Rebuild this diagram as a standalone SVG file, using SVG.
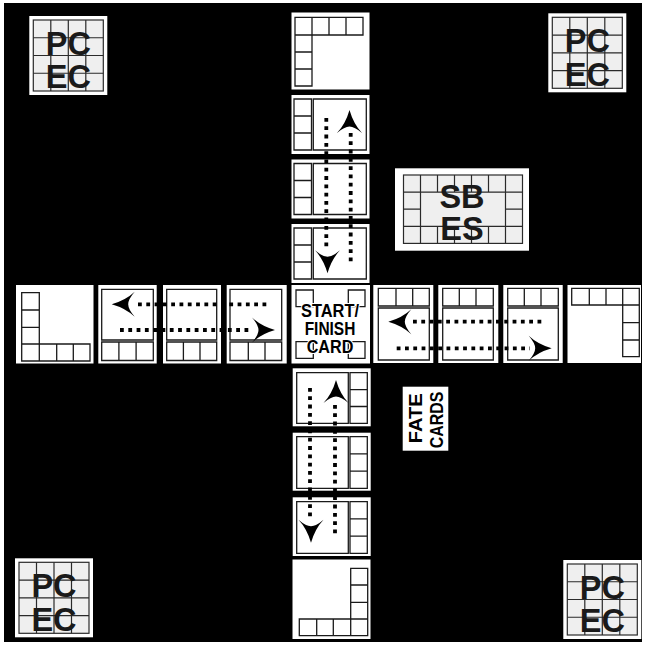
<svg xmlns="http://www.w3.org/2000/svg" width="645" height="645" viewBox="0 0 645 645">
<style>
.w{fill:#fff}
.ln{fill:none;stroke:#1a1a1a;stroke-width:1.3}
.gl{fill:none;stroke:#2a2a2a;stroke-width:1.2}
.grid{fill:#efefef;stroke:#2a2a2a;stroke-width:1.2}
.big{font-family:"Liberation Sans",Arial,sans-serif;font-weight:bold;font-size:32.5px;fill:#1a1a1a;text-anchor:middle}
.lbl{font-family:"Liberation Sans",Arial,sans-serif;font-weight:bold;font-size:18px;fill:#000;text-anchor:middle}
.halo{paint-order:stroke;stroke:#fff;stroke-width:2;stroke-linejoin:round}
.dot{fill:none;stroke:#000;stroke-width:3.8;stroke-dasharray:3.8 4.5}
</style>
<defs>
<path id="ah" d="M0,0 Q4,14 12.5,23 Q5,16.5 0,16.5 Q-5,16.5 -12.5,23 Q-4,14 0,0Z" fill="#000"/>
</defs>
<rect width="645" height="645" fill="#fff"/>
<rect x="4" y="3" width="638" height="639" fill="#000"/>

<g id="pcec-tl" transform="translate(29.3,16)">
<rect class="w" width="78" height="79"/>
<rect class="grid" x="4" y="4" width="70" height="71"/>
<path class="gl" d="M21.5 4V75M39 4V75M56.5 4V75M4 21.75H74M4 39.5H74M4 57.25H74"/>
<text class="big" x="39" y="39">PC</text>
<text class="big" x="39" y="72.3">EC</text>
</g>
<g id="pcec-tr" transform="translate(548.3,13.3)">
<rect class="w" width="78" height="79"/>
<rect class="grid" x="4" y="4" width="70" height="71"/>
<path class="gl" d="M21.5 4V75M39 4V75M56.5 4V75M4 21.75H74M4 39.5H74M4 57.25H74"/>
<text class="big" x="39" y="39">PC</text>
<text class="big" x="39" y="72.3">EC</text>
</g>
<g id="pcec-bl" transform="translate(15,558.3)">
<rect class="w" width="78" height="79"/>
<rect class="grid" x="4" y="4" width="70" height="71"/>
<path class="gl" d="M21.5 4V75M39 4V75M56.5 4V75M4 21.75H74M4 39.5H74M4 57.25H74"/>
<text class="big" x="39" y="39">PC</text>
<text class="big" x="39" y="72.3">EC</text>
</g>
<g id="pcec-br" transform="translate(563.3,560)">
<rect class="w" width="78" height="79"/>
<rect class="grid" x="4" y="4" width="70" height="71"/>
<path class="gl" d="M21.5 4V75M39 4V75M56.5 4V75M4 21.75H74M4 39.5H74M4 57.25H74"/>
<text class="big" x="39" y="39">PC</text>
<text class="big" x="39" y="72.3">EC</text>
</g>

<g id="sbes">
<rect class="w" x="395" y="168.3" width="134" height="82.4"/>
<rect class="grid" x="403.5" y="175" width="119" height="68.4"/>
<path class="gl" d="M403.5 192.1H522.5M403.5 226.3H522.5M403.5 209.2H420.5M505.5 209.2H522.5M420.5 175V243.4M505.5 175V243.4M437.5 175V192.1M454.5 175V192.1M471.5 175V192.1M488.5 175V192.1M437.5 226.3V243.4M454.5 226.3V243.4M471.5 226.3V243.4M488.5 226.3V243.4"/>
<text class="big" x="462" y="208.3">SB</text>
<text class="big" x="462" y="240">ES</text>
</g>

<g id="top-end">
<rect class="w" x="291.5" y="12.5" width="78" height="77"/>
<path class="ln" d="M295 17.3H363V35H295Z M312 17.3V35 M329 17.3V35 M346 17.3V35 M295 35V86H312V35 M295 52H312 M295 69H312"/>
</g>
<g id="top-1">
<rect class="w" x="291.5" y="95" width="78" height="59"/>
<path class="ln" d="M294 99H311.5V150H294Z M294 116H311.5 M294 133H311.5 M313.3 99H366.3V150H313.3Z"/>
</g>
<g id="top-2">
<rect class="w" x="291.5" y="159.5" width="78" height="59"/>
<path class="ln" d="M294 163.5H311.5V214.5H294Z M294 180.5H311.5 M294 197.5H311.5 M313.3 163.5H366.3V214.5H313.3Z"/>
</g>
<g id="top-3">
<rect class="w" x="291.5" y="224" width="78" height="59"/>
<path class="ln" d="M294 228H311.5V279H294Z M294 245H311.5 M294 262H311.5 M313.3 228H366.3V279H313.3Z"/>
</g>

<g id="left-end">
<rect class="w" x="16" y="285" width="77.5" height="78.5"/>
<path class="ln" d="M21.7 292.7H39.3V361H21.7Z M21.7 310H39.3 M21.7 327.3H39.3 M21.7 344H90V361H39.3 M56.7 344V361 M73.3 344V361"/>
</g>
<g id="left-1">
<rect class="w" x="98.3" y="285" width="58.4" height="78.5"/>
<path class="ln" d="M101.7 289.3H153.3V340H101.7Z M101.7 342H153.3V360.5H101.7Z M118.9 342V360.5 M136.1 342V360.5"/>
</g>
<g id="left-2">
<rect class="w" x="163" y="285" width="58" height="78.5"/>
<path class="ln" d="M166.7 289.3H216.7V340H166.7Z M166.7 342H216.7V360.5H166.7Z M183.4 342V360.5 M200 342V360.5"/>
</g>
<g id="left-3">
<rect class="w" x="226.7" y="285" width="60" height="78.5"/>
<path class="ln" d="M230 289.3H281.7V340H230Z M230 342H281.7V360.5H230Z M248.3 342V360.5 M265 342V360.5"/>
</g>

<g id="start">
<rect class="w" x="291.5" y="285" width="78.5" height="78.5"/>
<path class="ln" d="M296 290h17.3v16.7h-17.3Z M348.3 290h16.7v16.7h-16.7Z M296 341.7h17.3v16.7h-17.3Z M348.3 341.7h16.7v16.7h-16.7Z"/>
<text class="lbl halo" x="330" y="317.3" textLength="58" lengthAdjust="spacingAndGlyphs">START/</text>
<text class="lbl halo" x="330" y="335" textLength="50.7" lengthAdjust="spacingAndGlyphs">FINISH</text>
<text class="lbl halo" x="330" y="352.7" textLength="46.7" lengthAdjust="spacingAndGlyphs">CARD</text>
</g>

<g id="right-1">
<rect class="w" x="373.3" y="285" width="60" height="78"/>
<path class="ln" d="M378.3 288.3H429.3V306H378.3Z M396 288.3V306 M412.7 288.3V306 M378.3 308H429.3V360H378.3Z"/>
</g>
<g id="right-2">
<rect class="w" x="438.3" y="285" width="60" height="78"/>
<path class="ln" d="M442.7 288.3H493.3V306H442.7Z M459.3 288.3V306 M476 288.3V306 M442.7 308H493.3V360H442.7Z"/>
</g>
<g id="right-3">
<rect class="w" x="503.3" y="285" width="59.4" height="78"/>
<path class="ln" d="M507.7 288.3H558.3V306H507.7Z M524.3 288.3V306 M541 288.3V306 M507.7 308H558.3V360H507.7Z"/>
</g>
<g id="right-end">
<rect class="w" x="567.5" y="285" width="73.5" height="78"/>
<path class="ln" d="M571.7 288.3H639.3V305H571.7Z M589.3 288.3V305 M606 288.3V305 M622.7 288.3V356.7H639.3V305 M622.7 322.7H639.3 M622.7 340H639.3"/>
</g>

<g id="bottom-1">
<rect class="w" x="292.7" y="368.3" width="78" height="58"/>
<path class="ln" d="M296.7 372.7H348.3V423.3H296.7Z M350 372.7H367.3V423.3H350Z M350 389.6H367.3 M350 406.5H367.3"/>
</g>
<g id="bottom-2">
<rect class="w" x="292.7" y="432.7" width="78" height="58"/>
<path class="ln" d="M296.7 436.7H348.3V488.3H296.7Z M350 436.7H367.3V488.3H350Z M350 453.9H367.3 M350 471.1H367.3"/>
</g>
<g id="bottom-3">
<rect class="w" x="292.7" y="497.3" width="78" height="58.7"/>
<path class="ln" d="M296.7 501.7H348.3V553.3H296.7Z M350 501.7H367.3V553.3H350Z M350 518.9H367.3 M350 536.1H367.3"/>
</g>
<g id="bottom-end">
<rect class="w" x="292.5" y="559.5" width="78" height="79.5"/>
<path class="ln" d="M350.7 568.3H367.7V635.7H350.7Z M350.7 585H367.7 M350.7 602.3H367.7 M350.7 619H367.7 M299.3 619H350.7V635.7H299.3Z M316.7 619V635.7 M333.3 619V635.7"/>
</g>

<g id="fate-cards">
<rect class="w" x="402.7" y="386.7" width="45.6" height="64"/>
<text class="lbl" font-size="19" transform="translate(421.5,418.3) rotate(-90)" textLength="50" lengthAdjust="spacingAndGlyphs">FATE</text>
<text class="lbl" font-size="19" transform="translate(443.3,420) rotate(-90)" textLength="56.7" lengthAdjust="spacingAndGlyphs">CARDS</text>
</g>

<g id="connectors">
<path class="dot" d="M350.7 133V263"/>
<path class="dot" d="M326.3 118V250"/>
<use href="#ah" transform="translate(349.5,110)"/>
<use href="#ah" transform="translate(327.5,273.3) rotate(180)"/>
<path class="dot" d="M138 304.3H268"/>
<path class="dot" d="M120 330H252"/>
<use href="#ah" transform="translate(111.7,304.3) rotate(-90)"/>
<use href="#ah" transform="translate(275,330) rotate(90)"/>
<path class="dot" d="M413 321.7H545"/>
<path class="dot" d="M396.7 348.3H530"/>
<use href="#ah" transform="translate(388.3,321.7) rotate(-90)"/>
<use href="#ah" transform="translate(551.7,348.3) rotate(90)"/>
<path class="dot" d="M335 405V535"/>
<path class="dot" d="M310 388V520"/>
<use href="#ah" transform="translate(336,380)"/>
<use href="#ah" transform="translate(311,542.7) rotate(180)"/>
</g>
</svg>
